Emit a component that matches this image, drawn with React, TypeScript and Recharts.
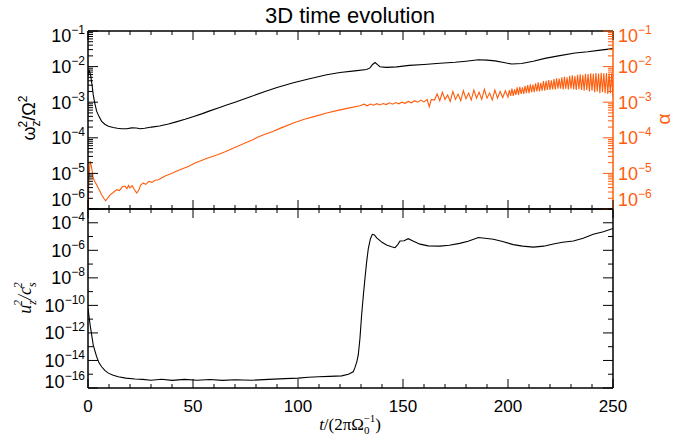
import { LineChart, Line, XAxis, YAxis } from "recharts";

const W = 689;
const H = 443;
const ORANGE = "#ff5c0c";
const SANS = "'Liberation Sans', Arial, sans-serif";
const SERIF = "'Liberation Serif', 'Times New Roman', serif";

// x axis
const xTicks = [0, 10, 20, 30, 40, 50, 60, 70, 80, 90, 100, 110, 120, 130, 140, 150, 160, 170, 180, 190, 200, 210, 220, 230, 240, 250];
const xLabels = [0, 50, 100, 150, 200, 250];

// log axes
const topDecades = [-6, -5, -4, -3, -2, -1];
const mantissas = [1, 2, 3, 4, 5, 6, 7, 8, 9];
const botDecades = [-16, -15, -14, -13, -12, -11, -10, -9, -8, -7, -6, -5, -4, -3];
const botLabels = [-16, -14, -12, -10, -8, -6, -4];

// omega_z^2 / Omega^2 (top, black)
const omegaT = [0, 0.5, 1.2, 2, 2.5, 3.2, 4.1, 5.2, 6.5, 8, 9.7, 12, 14, 16, 18.5, 20.8, 23, 24.8, 27, 30.3, 34, 38.3, 42, 46.2, 50, 54.1, 58, 62, 66, 70, 77, 84.3, 90, 97.8, 105, 113.7, 120, 127, 132.7, 134.3, 135.5, 136.7, 138, 139, 142, 147, 153, 160, 167.6, 174.8, 180, 185.9, 190, 193.8, 198, 201.8, 206.5, 212, 217.6, 224, 231.9, 238, 244, 250];
const omegaV = [5.5e-3, 8.0e-3, 6.0e-3, 2.8e-3, 1.6e-3, 9.5e-4, 5.6e-4, 4.0e-4, 2.9e-4, 2.4e-4, 2.1e-4, 1.95e-4, 1.85e-4, 1.8e-4, 1.8e-4, 1.9e-4, 1.88e-4, 1.8e-4, 1.85e-4, 2.0e-4, 2.15e-4, 2.45e-4, 2.8e-4, 3.3e-4, 3.9e-4, 4.7e-4, 5.7e-4, 6.9e-4, 8.3e-4, 1.0e-3, 1.4e-3, 2.0e-3, 2.6e-3, 3.5e-3, 4.5e-3, 5.9e-3, 6.8e-3, 7.6e-3, 8.3e-3, 9.2e-3, 1.15e-2, 1.3e-2, 1.12e-2, 9.9e-3, 9.5e-3, 9.8e-3, 1.08e-2, 1.15e-2, 1.24e-2, 1.32e-2, 1.42e-2, 1.55e-2, 1.52e-2, 1.45e-2, 1.3e-2, 1.18e-2, 1.22e-2, 1.42e-2, 1.7e-2, 2.0e-2, 2.4e-2, 2.6e-2, 2.9e-2, 3.2e-2];

// alpha (top, orange, right axis): early growth
const alphaT1 = [0, 0.4, 1.0, 1.6, 2.5, 3.2, 4.1, 5.2, 6.5, 7.5, 8.4, 9.3, 10.5, 12, 13.7, 15, 16.3, 17.6, 18.5, 19.3, 20, 21, 22, 23.2, 24.2, 25, 26.3, 27.5, 29, 30.5, 32, 33.5, 35, 37, 39.8, 42, 45, 48, 51, 54, 57, 60, 62, 65, 68, 71, 74.8, 78, 81, 84.3, 88, 92, 97.8, 103, 108, 113.7, 119, 124, 129.5];
const alphaV1 = [5e-7, 6e-6, 2.2e-5, 1.6e-5, 7.4e-6, 6.0e-6, 4.8e-6, 3.6e-6, 2.5e-6, 2.0e-6, 1.7e-6, 2.0e-6, 2.5e-6, 2.9e-6, 3.5e-6, 3.3e-6, 4.2e-6, 4.4e-6, 3.7e-6, 4.6e-6, 3.9e-6, 4.5e-6, 3.6e-6, 2.8e-6, 3.4e-6, 4.6e-6, 5.4e-6, 4.9e-6, 6.0e-6, 5.6e-6, 6.4e-6, 6.6e-6, 7.4e-6, 8.6e-6, 1.0e-5, 1.15e-5, 1.35e-5, 1.6e-5, 1.95e-5, 2.3e-5, 2.7e-5, 3.1e-5, 3.4e-5, 4.0e-5, 4.8e-5, 5.7e-5, 7.1e-5, 8.6e-5, 1.05e-4, 1.25e-4, 1.5e-4, 1.9e-4, 2.6e-4, 3.3e-4, 4.0e-4, 5.0e-4, 5.9e-4, 6.8e-4, 7.9e-4];
// noisy plateau
const alphaT2 = [131.5, 133, 134.5, 136, 137.5, 139, 140.5, 142, 143.5, 145, 146.5, 148, 149.5, 151, 152.5, 154, 155.5, 157, 158.5, 160, 161.5, 162.5, 163.5];
const alphaV2 = [8.8e-4, 7.9e-4, 8.9e-4, 8.2e-4, 9.1e-4, 8.4e-4, 9.2e-4, 8.6e-4, 9.6e-4, 8.8e-4, 9.8e-4, 9.0e-4, 1.0e-3, 9.3e-4, 1.05e-3, 9.6e-4, 1.1e-3, 1.0e-3, 1.15e-3, 1.02e-3, 1.2e-3, 7.5e-4, 1.2e-3];
// oscillating
const alphaT3 = [165, 166.25, 167.5, 168.75, 170, 171.25, 172.5, 173.75, 175, 176.25, 177.5, 178.75, 180, 181.25, 182.5, 183.75, 185, 186.25, 187.5, 188.75, 190, 191.25, 192.5, 193.75, 195, 196.25, 197.5, 198.75];
const alphaV3 = [1.15e-3, 1.7e-3, 1.1e-3, 1.9e-3, 1.2e-3, 1.6e-3, 1.05e-3, 2.0e-3, 1.2e-3, 1.7e-3, 1.1e-3, 2.1e-3, 1.25e-3, 1.8e-3, 1.15e-3, 2.2e-3, 1.3e-3, 1.9e-3, 1.2e-3, 2.3e-3, 1.3e-3, 1.8e-3, 1.15e-3, 2.2e-3, 1.3e-3, 2.0e-3, 1.35e-3, 2.1e-3];
// dense oscillating band
const alphaT4 = [
  200, 200.625, 201.25, 201.875, 202.5, 203.125, 203.75, 204.375, 205, 205.625,
  206.25, 206.875, 207.5, 208.125, 208.75, 209.375, 210, 210.625, 211.25, 211.875,
  212.5, 213.125, 213.75, 214.375, 215, 215.625, 216.25, 216.875, 217.5, 218.125,
  218.75, 219.375, 220, 220.625, 221.25, 221.875, 222.5, 223.125, 223.75, 224.375,
  225, 225.625, 226.25, 226.875, 227.5, 228.125, 228.75, 229.375, 230, 230.625,
  231.25, 231.875, 232.5, 233.125, 233.75, 234.375, 235, 235.625, 236.25, 236.875,
  237.5, 238.125, 238.75, 239.375, 240, 240.625, 241.25, 241.875, 242.5, 243.125,
  243.75, 244.375, 245, 245.625, 246.25, 246.875, 247.5, 248.125, 248.75, 249.375,
  250,
];
const alphaV4 = [
  1.4e-3, 2.2e-3, 1.5e-3, 2.4e-3, 1.5e-3, 2.3e-3, 1.6e-3, 2.6e-3, 1.6e-3, 2.7e-3,
  1.7e-3, 2.6e-3, 1.7e-3, 2.9e-3, 1.8e-3, 3.0e-3, 1.8e-3, 3.2e-3, 1.9e-3, 3.1e-3,
  1.9e-3, 3.4e-3, 2.0e-3, 3.6e-3, 2.0e-3, 3.5e-3, 2.1e-3, 3.9e-3, 2.1e-3, 4.0e-3,
  2.2e-3, 4.2e-3, 2.2e-3, 4.1e-3, 2.3e-3, 4.5e-3, 2.3e-3, 4.7e-3, 2.4e-3, 4.6e-3,
  2.4e-3, 5.0e-3, 2.3e-3, 5.2e-3, 2.4e-3, 5.0e-3, 2.3e-3, 5.5e-3, 2.4e-3, 5.7e-3,
  2.3e-3, 5.4e-3, 2.2e-3, 5.9e-3, 2.3e-3, 6.1e-3, 2.2e-3, 5.8e-3, 2.1e-3, 6.3e-3,
  2.2e-3, 6.2e-3, 2.0e-3, 6.5e-3, 2.1e-3, 6.3e-3, 1.9e-3, 6.6e-3, 2.0e-3, 6.4e-3,
  1.8e-3, 6.7e-3, 1.9e-3, 6.5e-3, 1.8e-3, 6.6e-3, 1.7e-3, 6.4e-3, 1.8e-3, 6.5e-3,
  1.4e-3,
];

// u_z^2 / c_s^2 (bottom, black)
const uzT = [0, 1, 2.5, 4.1, 5.2, 6.5, 8, 9.7, 12, 14.4, 18, 22.4, 26, 30, 35, 40, 46, 52, 58, 64, 70, 78, 86, 93.8, 100, 105, 109.7, 115, 120.8, 124, 126.3, 127.1, 128, 128.7, 129.5, 130.3, 131.1, 131.9, 132.7, 133.5, 134.5, 135.4, 136.4, 137.5, 140, 142.2, 144.5, 146.2, 147.5, 148.6, 150.5, 152.5, 155, 158.1, 162, 167.6, 172, 177, 181, 185.9, 189, 193, 197, 202.5, 207, 212, 217, 221.6, 226, 231.1, 235.8, 240.6, 245.4, 250];
const uzV = [6.2e-11, 3.8e-12, 1.3e-13, 1.9e-14, 7e-15, 3.5e-15, 1.9e-15, 1.2e-15, 8.5e-16, 6.6e-16, 5.2e-16, 4.5e-16, 4.2e-16, 3.7e-16, 4.3e-16, 3.6e-16, 4.2e-16, 3.7e-16, 4.1e-16, 3.6e-16, 4.0e-16, 3.7e-16, 4.2e-16, 4.8e-16, 5.2e-16, 6.0e-16, 6.6e-16, 7.0e-16, 7.6e-16, 1.0e-15, 1.5e-15, 3e-15, 8e-15, 2.5e-14, 4e-13, 2e-11, 5e-10, 9.3e-9, 1.5e-7, 1.4e-6, 7e-6, 1.45e-5, 1.3e-5, 8e-6, 3.8e-6, 2.4e-6, 1.8e-6, 1.55e-6, 2.6e-6, 4.8e-6, 5.0e-6, 7.0e-6, 4.5e-6, 2.8e-6, 2.1e-6, 2.0e-6, 2.3e-6, 3.2e-6, 4.5e-6, 8.5e-6, 7.5e-6, 6.3e-6, 4.5e-6, 2.6e-6, 2.0e-6, 1.7e-6, 2.0e-6, 2.9e-6, 3.8e-6, 4.8e-6, 7.4e-6, 1.45e-5, 2.2e-5, 3.9e-5];

const alphaT = [...alphaT1, ...alphaT2, ...alphaT3, ...alphaT4];
const alphaV = [...alphaV1, ...alphaV2, ...alphaV3, ...alphaV4];

const omegaData = omegaT.map((t, i) => ({ t, v: omegaV[i] }));
const alphaData = alphaT.map((t, i) => ({ t, v: alphaV[i] }));
const uzData = uzT.map((t, i) => ({ t, v: uzV[i] }));

const topTicks = topDecades.flatMap((d) => mantissas.map((m) => m * Math.pow(10, d))).filter((v) => v <= 0.1 + 1e-12);
const botTicks = botDecades.map((d) => Math.pow(10, d));

const expOf = (v: number) => Math.log10(v);
const isDecade = (v: number) => Math.abs(expOf(v) - Math.round(expOf(v))) < 1e-6;

function YTick(props: any) {
  const { x, y, payload, side, color, labels, shifts, minorLen, majorLen } = props;
  const v = payload.value;
  const dec = isDecade(v);
  const e = Math.round(expOf(v));
  const labeled = dec && labels.includes(e);
  const len = labeled ? majorLen : minorLen;
  const dir = side === "left" ? 1 : -1;
  const shift = shifts[e] ?? 0;
  return (
    <g>
      <line x1={x} x2={x + dir * len} y1={y} y2={y} stroke={color} strokeWidth={1} />
      {labeled && props.showLabel && (
        <text
          x={side === "left" ? x - 3 : x + 5}
          y={y + shift}
          dy="0.36em"
          textAnchor={side === "left" ? "end" : "start"}
          fontSize={18}
          fontFamily={SANS}
          fill={color}
        >
          10
          <tspan dy={-8} fontSize={12}>{"\u2212" + Math.abs(e)}</tspan>
        </text>
      )}
    </g>
  );
}

function XTick(props: any) {
  const { x, y, payload, orient, showLabel } = props;
  const v = payload.value;
  const major = xLabels.includes(v);
  const len = major ? 9 : 4;
  const dir = orient === "top" ? 1 : -1;
  return (
    <g>
      <line x1={x} x2={x} y1={y} y2={y + dir * len} stroke="#000" strokeWidth={1} />
      {showLabel && major && (
        <text x={x} y={y + 24} textAnchor="middle" fontSize={17} fontFamily={SANS} fill="#000">
          {v}
        </text>
      )}
    </g>
  );
}

const axisStyle = { stroke: "#000", strokeWidth: 1.5 };

function xAxes(showLabel: boolean) {
  return [
    <XAxis
      key="xb"
      xAxisId="b"
      type="number"
      dataKey="t"
      domain={[0, 250]}
      allowDataOverflow
      ticks={xTicks}
      interval={0}
      height={10}
      tickSize={0}
      tickMargin={0}
      axisLine={axisStyle}
      tick={(p: any) => <XTick {...p} orient="bottom" showLabel={showLabel} />}
    />,
    <XAxis
      key="xt"
      xAxisId="t"
      orientation="top"
      type="number"
      dataKey="t"
      domain={[0, 250]}
      allowDataOverflow
      ticks={xTicks}
      interval={0}
      height={10}
      tickSize={0}
      tickMargin={0}
      axisLine={axisStyle}
      tick={(p: any) => <XTick {...p} orient="top" showLabel={false} />}
    />,
  ];
}

export default function App() {
  return (
    <div style={{ position: "absolute", left: 0, top: 0, width: W, height: H, background: "#fff" }}>
      <div style={{ position: "absolute", left: 0, top: 0 }}>
        <LineChart width={W} height={H} margin={{ top: 21, bottom: 224, left: 78, right: 66 }}>
          {xAxes(false)}
          <YAxis
            yAxisId="l"
            scale="log"
            type="number"
            domain={[1e-6, 1e-1]}
            allowDataOverflow
            ticks={topTicks}
            interval={0}
            width={10}
            tickSize={0}
            tickMargin={0}
            axisLine={axisStyle}
            tick={(p: any) => (
              <YTick {...p} side="left" color="#000" labels={topDecades} shifts={{ [-1]: 5, [-6]: -9 }} minorLen={5} majorLen={10} showLabel />
            )}
          />
          <YAxis
            yAxisId="r"
            orientation="right"
            scale="log"
            type="number"
            domain={[1e-6, 1e-1]}
            allowDataOverflow
            ticks={topTicks}
            interval={0}
            width={10}
            tickSize={0}
            tickMargin={0}
            axisLine={{ stroke: ORANGE, strokeWidth: 1.5 }}
            tick={(p: any) => (
              <YTick {...p} side="right" color={ORANGE} labels={topDecades} shifts={{ [-1]: 5, [-6]: -9 }} minorLen={5} majorLen={10} showLabel />
            )}
          />
          <Line data={omegaData} xAxisId="b" yAxisId="l" dataKey="v" type="linear" stroke="#000" strokeWidth={1.1} dot={false} isAnimationActive={false} />
          <Line data={alphaData} xAxisId="b" yAxisId="r" dataKey="v" type="linear" stroke={ORANGE} strokeWidth={1.1} dot={false} isAnimationActive={false} />
        </LineChart>
      </div>
      <div style={{ position: "absolute", left: 0, top: 0 }}>
        <LineChart width={W} height={H} margin={{ top: 199, bottom: 45, left: 78, right: 66 }}>
          {xAxes(true)}
          <YAxis
            yAxisId="l"
            scale="log"
            type="number"
            domain={[1e-16, 1e-3]}
            allowDataOverflow
            ticks={botTicks}
            interval={0}
            width={10}
            tickSize={0}
            tickMargin={0}
            axisLine={axisStyle}
            tick={(p: any) => (
              <YTick {...p} side="left" color="#000" labels={botLabels} shifts={{ [-16]: -6 }} minorLen={5} majorLen={10} showLabel />
            )}
          />
          <YAxis
            yAxisId="r"
            orientation="right"
            scale="log"
            type="number"
            domain={[1e-16, 1e-3]}
            allowDataOverflow
            ticks={botTicks}
            interval={0}
            width={10}
            tickSize={0}
            tickMargin={0}
            axisLine={axisStyle}
            tick={(p: any) => (
              <YTick {...p} side="right" color="#000" labels={botLabels} shifts={{}} minorLen={5} majorLen={10} showLabel={false} />
            )}
          />
          <Line data={uzData} xAxisId="b" yAxisId="l" dataKey="v" type="linear" stroke="#000" strokeWidth={1.1} dot={false} isAnimationActive={false} />
        </LineChart>
      </div>
      <svg width={W} height={H} style={{ position: "absolute", left: 0, top: 0, pointerEvents: "none" }}>
        <text x={350} y={23} textAnchor="middle" fontSize={22} fontFamily={SANS} fill="#000">
          3D time evolution
        </text>
        <text transform="rotate(-90 35 118)" x={35} y={118} textAnchor="middle" fontSize={18} fontFamily={SANS} fill="#000">
          ω<tspan dy={5} fontSize={12}>z</tspan>
          <tspan dx={-7} dy={-13} fontSize={12}>2</tspan>
          <tspan dy={8}>/Ω</tspan>
          <tspan dy={-8} fontSize={12}>2</tspan>
        </text>
        <text transform="rotate(-90 31 298)" x={31} y={298} textAnchor="middle" fontSize={18} fontFamily={SERIF} fontStyle="italic" fill="#000">
          u<tspan dy={5} fontSize={12}>z</tspan>
          <tspan dx={-6} dy={-14} fontSize={12}>2</tspan>
          <tspan dy={9}>/c</tspan>
          <tspan dy={5} fontSize={12}>s</tspan>
          <tspan dx={-6} dy={-14} fontSize={12}>2</tspan>
        </text>
        <text transform="rotate(-90 670 119)" x={670} y={119} textAnchor="middle" fontSize={19} fontFamily={SANS} fill={ORANGE}>
          α
        </text>
        <text x={350} y={430} textAnchor="middle" fontSize={17} fontFamily={SERIF} fill="#000">
          <tspan fontStyle="italic">t</tspan>/(2πΩ<tspan dy={4} fontSize={11}>0</tspan>
          <tspan dx={-6} dy={-12} fontSize={11}>−1</tspan>
          <tspan dy={8}>)</tspan>
        </text>
      </svg>
    </div>
  );
}
